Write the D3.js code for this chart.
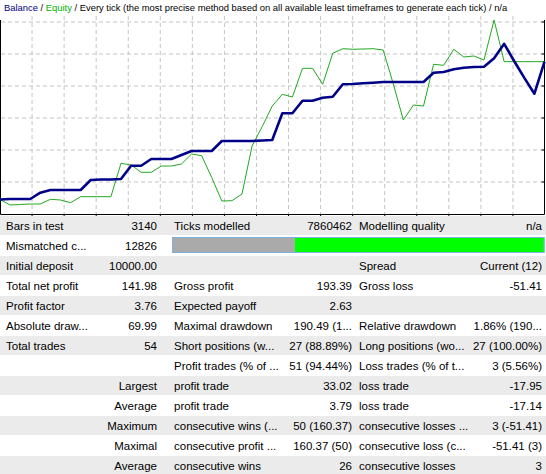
<!DOCTYPE html>
<html>
<head>
<meta charset="utf-8">
<script src="https://cdn.jsdelivr.net/npm/d3@7"></script>
<style>
  body { margin: 0; background: #fff; }
  text { font-family: "Liberation Sans", Arial, sans-serif; }
</style>
</head>
<body>
<script>
// Balance after each trade (index 0 = initial deposit)
const balance = [
  10000.00, 10000.52, 10000.52, 10000.52, 10007.00, 10009.79, 10009.79, 10009.79, 10009.79, 10020.09,
  10020.60, 10020.60, 10021.12, 10034.81, 10034.81, 10041.72, 10041.72, 10041.72, 10045.84, 10049.96,
  10049.96, 10049.96, 10060.26, 10060.26, 10060.26, 10060.26, 10060.77, 10061.29, 10088.79, 10088.79,
  10101.76, 10101.76, 10104.85, 10105.88, 10118.66, 10118.97, 10119.69, 10120.30, 10121.03, 10121.03,
  10121.03, 10121.03, 10121.03, 10130.60, 10131.33, 10134.11, 10135.75, 10136.48, 10136.78, 10145.44,
  10160.37, 10142.42, 10125.26, 10108.96, 10141.98
];

// Equity at each trade
const equity = [
  10000.00, 9994.33, 9994.85, 9995.36, 9995.36, 10000.21, 9999.49, 9996.70, 10002.88, 10002.88,
  10002.88, 10002.88, 10037.29, 10035.54, 10028.02, 10028.02, 10034.51, 10034.51, 10036.57, 10046.87,
  10045.11, 10022.56, 9998.45, 9998.76, 10005.67, 10055.11, 10074.98, 10096.31, 10108.36, 10105.58,
  10135.14, 10135.14, 10118.66, 10150.59, 10155.32, 10154.71, 10155.02, 10155.32, 10153.99, 10119.27,
  10081.89, 10097.34, 10096.31, 10139.26, 10138.23, 10154.71, 10146.78, 10147.81, 10143.69, 10184.89,
  10141.98, 10141.98, 10141.98, 10141.98, 10141.98
];

// Modelling quality bar: grey part / green part
const qualityParts = [33, 67];

// Report table rows (6 cells each)
const rows = [
  ["Bars in test", "3140", "Ticks modelled", "7860462", "Modelling quality", "n/a"],
  ["Mismatched c...", "12826", "", "", "", ""],
  ["Initial deposit", "10000.00", "", "", "Spread", "Current (12)"],
  ["Total net profit", "141.98", "Gross profit", "193.39", "Gross loss", "-51.41"],
  ["Profit factor", "3.76", "Expected payoff", "2.63", "", ""],
  ["Absolute draw...", "69.99", "Maximal drawdown", "190.49 (1...", "Relative drawdown", "1.86% (190..."],
  ["Total trades", "54", "Short positions (w...", "27 (88.89%)", "Long positions (wo...", "27 (100.00%)"],
  ["", "", "Profit trades (% of ...", "51 (94.44%)", "Loss trades (% of t...", "3 (5.56%)"],
  ["", "Largest", "profit trade", "33.02", "loss trade", "-17.95"],
  ["", "Average", "profit trade", "3.79", "loss trade", "-17.14"],
  ["", "Maximum", "consecutive wins (...", "50 (160.37)", "consecutive losses ...", "3 (-51.41)"],
  ["", "Maximal", "consecutive profit ...", "160.37 (50)", "consecutive loss (c...", "-51.41 (3)"],
  ["", "Average", "consecutive wins", "26", "consecutive losses", "3"]
];

const width = 546, height = 474;
const plot = { left: 0, right: 544.5, top: 22, bottom: 214 };

let svg = d3.select('body')
  .append('svg')
  .attr('width', width)
  .attr('height', height);

// Scales
let xScale = d3.scaleLinear()
  .domain([0, balance.length - 1])
  .range([plot.left, plot.right]);

let yScale = d3.scaleLinear()
  .domain([9985.07, 10182.83])
  .range([plot.bottom, plot.top]);

// Grid (16 vertical, 6 horizontal dashed lines)
const vGrid = d3.range(1, 17).map(k => k * 545 / 17);
const hGrid = d3.range(0, 6).map(k => plot.top + k * 32);

svg.append('g')
  .selectAll('line')
  .data(vGrid)
  .enter()
  .append('line')
  .attr('x1', d => d).attr('x2', d => d)
  .attr('y1', 16).attr('y2', plot.bottom)
  .attr('stroke', '#c4c4c4')
  .attr('stroke-dasharray', '4,3');

svg.append('g')
  .selectAll('line')
  .data(hGrid)
  .enter()
  .append('line')
  .attr('x1', 1).attr('x2', 545)
  .attr('y1', d => d).attr('y2', d => d)
  .attr('stroke', '#c4c4c4')
  .attr('stroke-dasharray', '4,3');

// Frame
svg.append('path')
  .attr('d', `M0.5,20V${plot.bottom + 0.5}H544.5V20`)
  .attr('fill', 'none')
  .attr('stroke', '#000');

// Small ticks: bottom and right edges
svg.append('g')
  .selectAll('line')
  .data(vGrid)
  .enter()
  .append('line')
  .attr('x1', d => d).attr('x2', d => d)
  .attr('y1', plot.bottom).attr('y2', plot.bottom + 3)
  .attr('stroke', '#000');

svg.append('g')
  .selectAll('line')
  .data(hGrid)
  .enter()
  .append('line')
  .attr('x1', 541.5).attr('x2', 545)
  .attr('y1', d => d).attr('y2', d => d)
  .attr('stroke', '#000');

// Lines
let line = d3.line()
  .x((d, i) => xScale(i))
  .y(d => yScale(d));

svg.append('path')
  .datum(equity)
  .attr('d', line)
  .attr('fill', 'none')
  .attr('stroke', '#22a822')
  .attr('stroke-width', 1);

svg.append('path')
  .datum(balance)
  .attr('d', line)
  .attr('fill', 'none')
  .attr('stroke', '#000088')
  .attr('stroke-width', 2.6)
  .attr('stroke-linejoin', 'round');

// Title
let title = svg.append('text')
  .attr('x', 4)
  .attr('y', 11)
  .style('font-size', '10px');
title.append('tspan').attr('fill', '#000080').text('Balance');
title.append('tspan').attr('fill', '#000').text(' / ');
title.append('tspan').attr('fill', '#00b000').text('Equity');
title.append('tspan').attr('fill', '#000')
  .text(' / Every tick (the most precise method based on all available least timeframes to generate each tick) / n/a');
// fit the title width to the reference
let tlen = title.node().getComputedTextLength();
title.style('font-size', (10 * 504 / tlen) + 'px');

// Table
const rowTop = 216, rowH = 20;
const cols = [
  { x: 6, anchor: 'start' },
  { x: 157, anchor: 'end' },
  { x: 174, anchor: 'start' },
  { x: 352, anchor: 'end' },
  { x: 359, anchor: 'start' },
  { x: 542, anchor: 'end' }
];

let table = svg.append('g');

table.selectAll('rect.row')
  .data(rows)
  .enter()
  .append('rect')
  .attr('class', 'row')
  .attr('x', 0)
  .attr('y', (d, i) => rowTop + i * rowH)
  .attr('width', width)
  .attr('height', rowH - 1)
  .attr('fill', (d, i) => i % 2 === 0 ? '#ebebeb' : '#fff');

rows.forEach((r, i) => {
  r.forEach((t, j) => {
    if (!t) return;
    table.append('text')
      .attr('x', cols[j].x)
      .attr('y', rowTop + i * rowH + 14)
      .attr('text-anchor', cols[j].anchor)
      .style('font-size', '11.5px')
      .attr('fill', '#000')
      .text(t);
  });
});

// Modelling quality bar
let qScale = d3.scaleLinear()
  .domain([0, d3.sum(qualityParts)])
  .range([172, 544.5]);

let qy = rowTop + rowH + 1;
svg.append('rect')
  .attr('x', qScale(0)).attr('y', qy)
  .attr('width', qScale(qualityParts[0]) - qScale(0))
  .attr('height', 16)
  .attr('fill', '#aaaaaa');
svg.append('rect')
  .attr('x', qScale(qualityParts[0])).attr('y', qy)
  .attr('width', qScale(d3.sum(qualityParts)) - qScale(qualityParts[0]))
  .attr('height', 16)
  .attr('fill', '#00ff00');
svg.append('rect')
  .attr('x', qScale(0) + 0.5).attr('y', qy + 0.5)
  .attr('width', qScale(d3.sum(qualityParts)) - qScale(0) - 1)
  .attr('height', 15)
  .attr('fill', 'none')
  .attr('stroke', '#7fb0e0');
</script>
</body>
</html>
